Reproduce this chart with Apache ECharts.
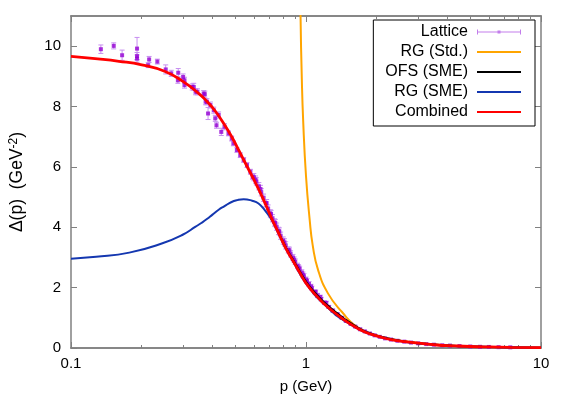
<!DOCTYPE html>
<html><head><meta charset="utf-8">
<script src="https://cdn.jsdelivr.net/npm/echarts@6/dist/echarts.min.js"></script>
<style>html,body{margin:0;padding:0;background:#fff}#c{width:570px;height:399px}</style>
</head><body><div id="c"></div>
<script>
// ---- data ----
const latticeP = [0.134,0.152,0.165,0.191,0.191,0.191,0.213,0.215,0.233,0.253,0.267,0.285,0.286,0.300,0.304,0.304,0.328,0.333,0.339,0.345,0.367,0.371,0.374,0.379,0.383,0.392,0.405,0.411,0.416,0.425,0.436,0.45,0.468,0.483,0.491,0.508,0.525,0.543,0.561,0.58,0.593,
  0.60,0.615,0.63,0.645,0.66,0.675,0.69,0.705,0.72,0.735,0.75,0.765,0.78,0.80,0.82,0.84,0.86,0.88,0.90,0.92,0.94,0.96,0.98,1.00,1.03,1.06,1.09,1.12,1.16,1.20,1.25,1.30,1.36,1.42,1.48,1.55,1.62,1.70,1.78,1.87,1.96,2.06,2.17,2.30,2.45,2.62,2.80,3.0,3.25,3.5,3.8,4.1,4.5,5.0,5.5,6.0,6.6,7.4,
  0.61,0.64,0.68,0.71,0.74,0.77,0.81,0.85,0.89,0.93,0.97,1.01,1.05,1.10,1.15,1.22];
const latticeV = [9.90,10.01,9.70,9.92,9.67,9.59,9.37,9.56,9.49,9.23,9.10,8.87,9.12,8.98,8.87,8.71,8.65,8.65,8.49,8.49,8.43,8.41,8.16,8.16,7.77,8.05,7.88,7.61,7.38,7.72,7.16,7.33,7.11,6.94,6.78,6.56,6.39,6.23,6.06,5.84,5.67,
  5.66,5.52,5.36,5.16,4.98,4.80,4.62,4.46,4.30,4.16,4.02,3.88,3.72,3.56,3.40,3.25,3.12,3.00,2.86,2.72,2.62,2.50,2.38,2.27,2.12,1.98,1.86,1.74,1.62,1.50,1.36,1.24,1.12,1.00,0.90,0.80,0.71,0.62,0.55,0.48,0.42,0.37,0.32,0.28,0.24,0.21,0.18,0.155,0.13,0.11,0.09,0.08,0.065,0.05,0.04,0.035,0.028,0.022,
  5.58,5.27,4.80,4.44,4.14,3.86,3.50,3.24,2.93,2.67,2.43,2.22,2.04,1.85,1.69,1.49];
const latticeErr = [0.14,0.10,0.17,0.37,0.12,0.12,0.08,0.10,0.08,0.15,0.10,0.10,0.14,0.10,0.10,0.10,0.10,0.12,0.10,0.10,0.10,0.10,0.10,0.10,0.20,0.10,0.10,0.10,0.10,0.10,0.12,0.10,0.08,0.08,0.08,0.08,0.08,0.08,0.08,0.08,0.08,
  0.12,0.12,0.12,0.12,0.12,0.12,0.12,0.12,0.12,0.12,0.12,0.12,0.12,0.12,0.12,0.10,0.10,0.10,0.09,0.09,0.09,0.09,0.09,0.08,0.08,0.07,0.07,0.07,0.06,0.06,0.05,0.05,0.04,0.04,0.04,0.03,0.03,0.03,0.03,0.03,0.02,0.02,0.02,0.02,0.02,0.02,0.02,0.02,0.02,0.02,0.02,0.02,0.02,0.02,0.02,0.02,0.02,0.02,
  0.12,0.12,0.12,0.12,0.12,0.12,0.12,0.10,0.09,0.09,0.09,0.08,0.07,0.07,0.06,0.06];

const rgStdP = [0.938,0.948,0.960,0.973,1.0,1.037,1.068,1.126,1.24,1.42,1.66,2.08,2.62,3.6,5.0,7.4,10];
const rgStdV = [14,11,8.9,7.5,5.7,4.24,3.4,2.58,1.81,1.2,0.68,0.37,0.22,0.105,0.05,0.022,0.01];

const ofsP = [0.75,0.825,0.886,1.0,1.1,1.2,1.28,1.4,1.51,1.65,1.77,2.08,2.62,3.6,5.0,10];
const ofsV = [3.95,3.30,2.89,2.2,1.8,1.5,1.31,1.07,0.88,0.69,0.56,0.37,0.215,0.105,0.05,0.01];

const rgSmeP = [0.1,0.128,0.177,0.245,0.3,0.339,0.36,0.38,0.40,0.425,0.45,0.48,0.51,0.543,0.59,0.628,0.67,0.715,0.76,0.825,0.886,1.0,1.2,1.51,2.08,3.0,5.0,10];
const rgSmeV = [2.96,3.02,3.16,3.47,3.76,4.02,4.15,4.28,4.42,4.58,4.70,4.83,4.90,4.93,4.88,4.79,4.55,4.24,3.83,3.26,2.84,2.14,1.44,0.83,0.36,0.16,0.05,0.01];

const combP = [0.1,0.13,0.16,0.2,0.25,0.297,0.35,0.38,0.41,0.45,0.483,0.52,0.56,0.598,0.635,0.67,0.715,0.76,0.825,0.886,0.94,1.0,1.1,1.2,1.28,1.4,1.51,1.65,1.77,1.9,2.08,2.3,2.62,3.0,3.6,4.3,5.0,6.0,7.4,10];
const combV = [9.66,9.58,9.50,9.38,9.17,8.85,8.43,8.16,7.86,7.40,7.00,6.52,6.03,5.60,5.19,4.79,4.28,3.85,3.27,2.85,2.5,2.15,1.75,1.45,1.26,1.02,0.84,0.66,0.54,0.45,0.36,0.28,0.21,0.16,0.10,0.07,0.05,0.035,0.022,0.01];

const xMajorTicks = [0.1,1,10];
const xMinorTicks = [0.2,0.3,0.4,0.5,0.6,0.7,0.8,0.9,2,3,4,5,6,7,8,9];
const yTicks = [0,2,4,6,8,10];
const seriesNames = ['Lattice','RG (Std.)','OFS (SME)','RG (SME)','Combined'];

// ---- chart ----
const FONT = '"Liberation Sans", Arial, sans-serif';
const AX = '#808080';
const zip = (a,b) => a.map((x,i)=>[x,b[i]]);
const latticeData = latticeP.map((p,i)=>[p,latticeV[i],latticeErr[i]]);

function xAxisDef(pos, ticks, len, labels, extra) {
  return Object.assign({
    type:'log', logBase:10, min:0.1, max:10, position:pos, gridIndex:0,
    axisLine:{show:true, onZero:false, lineStyle:{color:AX, width:1.5}},
    axisTick:{show:true, inside:true, length:len, customValues:ticks, lineStyle:{color:AX, width:1}},
    axisLabel:labels ? {show:true, customValues:ticks, margin:8, fontSize:15, color:'#000', fontFamily:FONT,
      formatter:v => String(v)} : {show:false},
    splitLine:{show:false}, minorTick:{show:false}
  }, extra || {});
}
function yAxisDef(pos, labels, extra) {
  return Object.assign({
    type:'value', min:0, max:11, position:pos, gridIndex:0,
    axisLine:{show:true, onZero:false, lineStyle:{color:AX, width:1.5}},
    axisTick:{show:true, inside:true, length:6, customValues:yTicks, lineStyle:{color:AX, width:1}},
    axisLabel:labels ? {show:true, customValues:yTicks, margin:10, fontSize:15, color:'#000', fontFamily:FONT} : {show:false},
    splitLine:{show:false}
  }, extra || {});
}

const latticeIcon = 'path://M0,0h1v5h-1Z M43,0h1v5h-1Z M0,2h44v1h-44Z M20.5,1h3v3h-3Z';
const hideSym = {opacity:0};

const option = {
  animation:false,
  backgroundColor:'#fff',
  grid:{left:68, right:29, top:16, bottom:51, containLabel:false},
  xAxis:[
    xAxisDef('bottom', xMajorTicks, 6, true, {name:'p (GeV)', nameLocation:'middle', nameGap:31,
      nameTextStyle:{fontSize:15, color:'#000', fontFamily:FONT}}),
    xAxisDef('bottom', xMinorTicks, 3, false),
    xAxisDef('top', xMajorTicks, 6, false),
    xAxisDef('top', xMinorTicks, 3, false)
  ],
  yAxis:[
    yAxisDef('left', true, {name:'Δ(p)  (GeV{sup|-2})', nameLocation:'middle', nameGap:44,
      nameTextStyle:{fontSize:17.5, color:'#000', fontFamily:FONT,
        rich:{sup:{fontSize:12, color:'#000', fontFamily:FONT, verticalAlign:'top', padding:[0,0,7,0]}}}}),
    yAxisDef('right', false)
  ],
  legend:{
    show:true, orient:'vertical', right:35, top:20, align:'right',
    padding:[4,13,6,12], itemWidth:44, itemHeight:5, itemGap:4,
    borderColor:'#000', borderWidth:1, backgroundColor:'#fff',
    textStyle:{fontSize:16, color:'#000', fontFamily:FONT, lineHeight:16, padding:[0,4,0,0]},
    data:[
      {name:seriesNames[0], icon:latticeIcon, itemStyle:{color:'#b35ce6'}},
      {name:seriesNames[1], itemStyle:hideSym},
      {name:seriesNames[2], itemStyle:hideSym},
      {name:seriesNames[3], itemStyle:hideSym},
      {name:seriesNames[4], itemStyle:hideSym}
    ],
    selectedMode:false
  },
  series:[
    {
      name:'LatticeErr', type:'custom', xAxisIndex:0, yAxisIndex:0, data:latticeData,
      renderItem:function(params, api){
        const p = api.value(0), v = api.value(1), e = api.value(2);
        const t = api.coord([p, v+e]), b = api.coord([p, v-e]);
        const st = {stroke:'#c78ef0', lineWidth:1};
        return {type:'group', children:[
          {type:'line', shape:{x1:t[0], y1:t[1], x2:b[0], y2:b[1]}, style:st},
          {type:'line', shape:{x1:t[0]-2.5, y1:t[1], x2:t[0]+2.5, y2:t[1]}, style:st},
          {type:'line', shape:{x1:b[0]-2.5, y1:b[1], x2:b[0]+2.5, y2:b[1]}, style:st}
        ]};
      },
      encode:{x:0, y:1}, z:2, silent:true
    },
    {
      name:seriesNames[0], type:'scatter', xAxisIndex:0, yAxisIndex:0,
      data:latticeData.map(d=>[d[0],d[1]]), symbol:'rect', symbolSize:4,
      itemStyle:{color:'#9400d3'}, z:2, silent:true
    },
    {
      name:seriesNames[1], type:'line', data:zip(rgStdP, rgStdV), showSymbol:false, symbol:'none',
      smooth:true, clip:true, lineStyle:{color:'#ffa500', width:2}, itemStyle:{color:'#ffa500'}, z:3
    },
    {
      name:seriesNames[2], type:'line', data:zip(ofsP, ofsV), showSymbol:false, symbol:'none',
      smooth:true, lineStyle:{color:'#000000', width:2}, itemStyle:{color:'#000'}, z:3
    },
    {
      name:seriesNames[3], type:'line', data:zip(rgSmeP, rgSmeV), showSymbol:false, symbol:'none',
      smooth:true, lineStyle:{color:'#1437b0', width:2}, itemStyle:{color:'#1437b0'}, z:3
    },
    {
      name:seriesNames[4], type:'line', data:zip(combP, combV), showSymbol:false, symbol:'none',
      smooth:true, lineStyle:{color:'#ff0000', width:2.8}, itemStyle:{color:'#ff0000'}, z:3
    }
  ]
};
const chart = echarts.init(document.getElementById('c'), null, {renderer:'canvas'});
chart.setOption(option);
</script>
</body></html>
